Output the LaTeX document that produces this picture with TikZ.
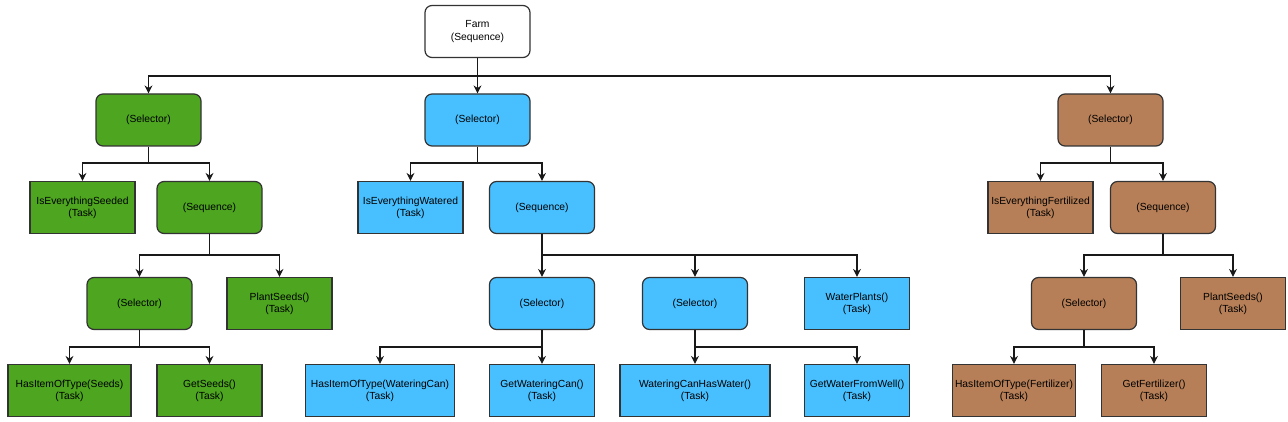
\documentclass[tikz,border=0pt]{standalone}
\usepackage{fontspec}
\setmainfont{Liberation Sans}
\usepackage{tikz}
\usetikzlibrary{arrows.meta,positioning}

\definecolor{seedgreen}{HTML}{4DA520}
\definecolor{waterblue}{HTML}{48C0FF}
\definecolor{soilbrown}{HTML}{B77F57}
\definecolor{edgegray}{HTML}{333333}

\begin{document}
\begin{tikzpicture}[
  x=1pt,y=-1pt,
  ctrl/.style={draw=edgegray, line width=1.2pt, rounded corners=7pt,
    minimum width=105pt, minimum height=52pt, inner sep=1pt, align=center,
    font=\fontsize{10.3}{12.3}\selectfont},
  leaf/.style={ctrl, sharp corners},
  link/.style={-{Stealth[length=8pt,width=8pt]}, line width=1.2pt, draw=black!90}
]
\useasboundingbox (0,0) rectangle (1288,422);

\node[ctrl, fill=white] (farm) at (477.5,31.5) {Farm\\(Sequence)};

% seeding
\node[ctrl, fill=seedgreen] (gsel) at (148.5,120) {(Selector)};
\node[leaf, fill=seedgreen] (gchk) at (82.5,207.5) {IsEverythingSeeded\\(Task)};
\node[ctrl, fill=seedgreen] (gseq) at (209.5,207.5) {(Sequence)};
\node[ctrl, fill=seedgreen] (gsub) at (139.5,303.5) {(Selector)};
\node[leaf, fill=seedgreen] (gplant) at (279.5,303.5) {PlantSeeds()\\(Task)};
\node[leaf, fill=seedgreen, minimum width=123pt] (ghas) at (69.5,390.5) {HasItemOfType(Seeds)\\(Task)};
\node[leaf, fill=seedgreen] (gget) at (209.5,390.5) {GetSeeds()\\(Task)};

% watering
\node[ctrl, fill=waterblue] (wsel) at (477.5,120) {(Selector)};
\node[leaf, fill=waterblue] (wchk) at (410.5,207.5) {IsEverythingWatered\\(Task)};
\node[ctrl, fill=waterblue] (wseq) at (542,207.5) {(Sequence)};
\node[ctrl, fill=waterblue] (wsub) at (542,303.5) {(Selector)};
\node[ctrl, fill=waterblue] (wfill) at (695,303.5) {(Selector)};
\node[leaf, fill=waterblue] (wplant) at (857,303.5) {WaterPlants()\\(Task)};
\node[leaf, fill=waterblue, minimum width=149pt] (whas) at (380,390.5) {HasItemOfType(WateringCan)\\(Task)};
\node[leaf, fill=waterblue] (wget) at (542,390.5) {GetWateringCan()\\(Task)};
\node[leaf, fill=waterblue, minimum width=150pt] (wcan) at (695,390.5) {WateringCanHasWater()\\(Task)};
\node[leaf, fill=waterblue] (wwell) at (857,390.5) {GetWaterFromWell()\\(Task)};

% fertilizing
\node[ctrl, fill=soilbrown] (fsel) at (1110.5,120) {(Selector)};
\node[leaf, fill=soilbrown] (fchk) at (1040.5,207.5) {IsEverythingFertilized\\(Task)};
\node[ctrl, fill=soilbrown] (fseq) at (1163,207.5) {(Sequence)};
\node[ctrl, fill=soilbrown] (fsub) at (1084,303.5) {(Selector)};
\node[leaf, fill=soilbrown] (fplant) at (1233,303.5) {PlantSeeds()\\(Task)};
\node[leaf, fill=soilbrown, minimum width=123pt] (fhas) at (1014,390.5) {HasItemOfType(Fertilizer)\\(Task)};
\node[leaf, fill=soilbrown] (fget) at (1154,390.5) {GetFertilizer()\\(Task)};

% root
\foreach \c in {gsel,wsel,fsel}
  \draw[link] (farm.south) -- (farm.south |- 0,76) -| (\c.north);

% level 1
\foreach \p/\c in {gsel/gchk,gsel/gseq,wsel/wchk,wsel/wseq,fsel/fchk,fsel/fseq}
  \draw[link] (\p.south) -- (\p.south |- 0,163) -| (\c.north);

% level 2
\foreach \p/\c in {gseq/gsub,gseq/gplant,wseq/wsub,wseq/wfill,wseq/wplant,fseq/fsub,fseq/fplant}
  \draw[link] (\p.south) -- (\p.south |- 0,255) -| (\c.north);

% level 3
\foreach \p/\c in {gsub/ghas,gsub/gget,wsub/whas,wsub/wget,wfill/wcan,wfill/wwell,fsub/fhas,fsub/fget}
  \draw[link] (\p.south) -- (\p.south |- 0,347) -| (\c.north);
\end{tikzpicture}
\end{document}
